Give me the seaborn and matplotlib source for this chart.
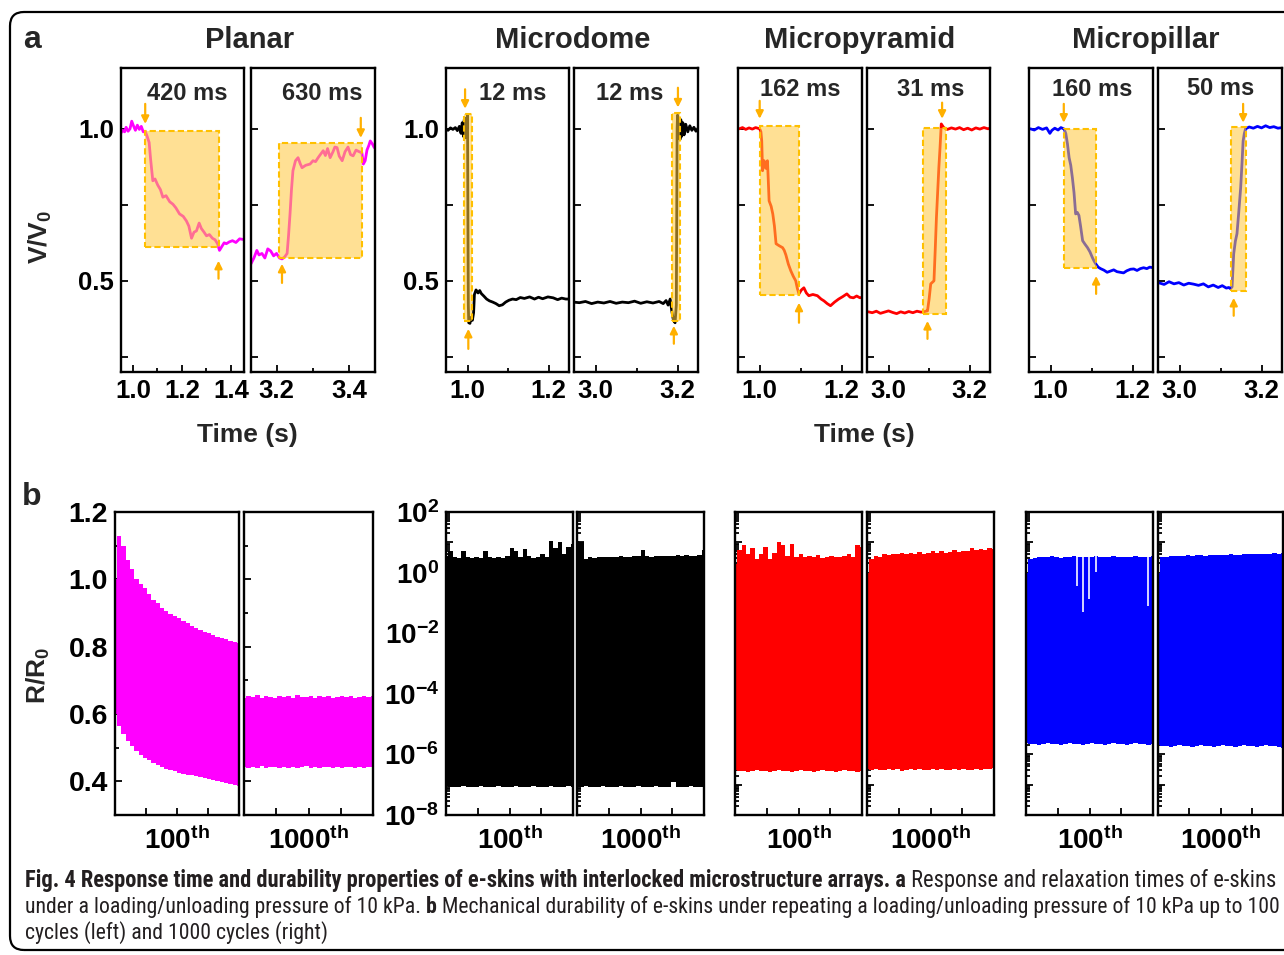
import numpy as np
import pandas as pd
import seaborn as sns
import matplotlib.pyplot as plt
from matplotlib.patches import FancyBboxPatch, Rectangle
from matplotlib.transforms import IdentityTransform
from matplotlib.ticker import FixedLocator, LogLocator, NullFormatter

W, H = 1284, 955

# ---------------- panel a: V/V0 vs time (s) ----------------
planar_load = [(0.950, 0.985), (0.958, 0.995), (0.966, 0.990), (0.972, 1.005), (0.980, 0.992),
               (0.988, 1.000), (0.995, 1.025), (1.002, 1.010), (1.010, 0.995), (1.018, 1.012),
               (1.026, 0.998), (1.034, 1.008), (1.042, 0.990), (1.050, 0.992), (1.058, 0.975),
               (1.066, 0.955), (1.072, 0.900), (1.081, 0.829), (1.090, 0.835), (1.101, 0.815),
               (1.112, 0.800), (1.122, 0.775), (1.135, 0.780), (1.150, 0.760), (1.163, 0.752),
               (1.175, 0.740), (1.190, 0.720), (1.205, 0.712), (1.218, 0.697), (1.228, 0.680),
               (1.239, 0.640), (1.249, 0.660), (1.259, 0.664), (1.270, 0.690), (1.279, 0.672),
               (1.290, 0.660), (1.300, 0.648), (1.312, 0.652), (1.324, 0.640), (1.335, 0.635),
               (1.345, 0.622), (1.353, 0.600), (1.362, 0.612), (1.372, 0.625), (1.381, 0.622),
               (1.393, 0.628), (1.406, 0.632), (1.420, 0.626), (1.435, 0.638), (1.450, 0.636)]
planar_unload = [(3.130, 0.556), (3.138, 0.575), (3.146, 0.600), (3.152, 0.585), (3.160, 0.590),
                 (3.168, 0.575), (3.176, 0.605), (3.184, 0.598), (3.192, 0.582), (3.200, 0.590),
                 (3.208, 0.575), (3.215, 0.572), (3.222, 0.578), (3.229, 0.590), (3.233, 0.650),
                 (3.237, 0.720), (3.241, 0.800), (3.245, 0.862), (3.252, 0.895), (3.259, 0.905),
                 (3.265, 0.885), (3.270, 0.872), (3.280, 0.880), (3.292, 0.884), (3.300, 0.895),
                 (3.307, 0.892), (3.314, 0.905), (3.320, 0.915), (3.328, 0.928), (3.334, 0.912),
                 (3.340, 0.935), (3.347, 0.905), (3.355, 0.925), (3.360, 0.940), (3.366, 0.938),
                 (3.372, 0.910), (3.380, 0.895), (3.388, 0.925), (3.396, 0.940), (3.403, 0.915),
                 (3.410, 0.911), (3.418, 0.930), (3.426, 0.925), (3.434, 0.921), (3.438, 0.884),
                 (3.443, 0.895), (3.448, 0.930), (3.453, 0.945), (3.457, 0.960), (3.463, 0.950),
                 (3.468, 0.938)]
dome_load = [(0.945, 1.000), (0.952, 0.995), (0.958, 1.003), (0.964, 0.998), (0.970, 1.004),
             (0.975, 0.994), (0.980, 1.008), (0.984, 0.985), (0.987, 1.020), (0.990, 0.975),
             (0.992, 1.030), (0.994, 0.970), (0.996, 1.035), (0.998, 1.000), (1.000, 1.045),
             (1.001, 0.700), (1.002, 0.420), (1.003, 0.362), (1.006, 0.360), (1.009, 0.380),
             (1.012, 0.370), (1.015, 0.395), (1.017, 0.455), (1.021, 0.470), (1.026, 0.460),
             (1.030, 0.468), (1.034, 0.458), (1.040, 0.450), (1.047, 0.440), (1.054, 0.434),
             (1.062, 0.430), (1.070, 0.425), (1.078, 0.418), (1.086, 0.421), (1.094, 0.430),
             (1.102, 0.436), (1.111, 0.440), (1.120, 0.438), (1.130, 0.445), (1.140, 0.442),
             (1.153, 0.447), (1.165, 0.440), (1.175, 0.446), (1.185, 0.441), (1.198, 0.447),
             (1.211, 0.444), (1.222, 0.438), (1.232, 0.443), (1.242, 0.440), (1.250, 0.440)]
dome_unload = [(2.945, 0.430), (2.960, 0.428), (2.975, 0.432), (2.990, 0.425), (3.005, 0.430),
               (3.020, 0.427), (3.035, 0.432), (3.050, 0.426), (3.065, 0.430), (3.080, 0.428),
               (3.095, 0.433), (3.110, 0.426), (3.125, 0.431), (3.140, 0.427), (3.155, 0.432),
               (3.165, 0.425), (3.172, 0.435), (3.177, 0.420), (3.182, 0.440), (3.186, 0.400),
               (3.190, 0.370), (3.194, 0.362), (3.197, 0.420), (3.198, 0.700), (3.199, 1.000),
               (3.200, 1.045), (3.202, 0.990), (3.204, 1.035), (3.206, 0.965), (3.208, 1.030),
               (3.210, 0.975), (3.213, 1.020), (3.216, 0.980), (3.220, 1.015), (3.225, 0.990),
               (3.230, 1.010), (3.235, 0.995), (3.240, 1.005), (3.245, 0.992), (3.250, 1.002)]
pyramid_load = [(0.950, 1.000), (0.958, 1.004), (0.966, 0.998), (0.974, 1.003), (0.982, 0.999),
                (0.990, 1.004), (1.000, 1.000), (1.003, 0.990), (1.005, 0.960), (1.007, 0.862),
                (1.009, 0.880), (1.011, 0.895), (1.015, 0.870), (1.019, 0.895), (1.021, 0.830),
                (1.023, 0.763), (1.028, 0.745), (1.032, 0.720), (1.036, 0.680), (1.040, 0.622),
                (1.048, 0.615), (1.056, 0.609), (1.060, 0.600), (1.064, 0.585), (1.070, 0.555),
                (1.076, 0.533), (1.082, 0.515), (1.088, 0.500), (1.092, 0.475), (1.096, 0.457),
                (1.102, 0.470), (1.108, 0.477), (1.114, 0.460), (1.120, 0.451), (1.130, 0.455),
                (1.141, 0.451), (1.150, 0.440), (1.157, 0.434), (1.165, 0.425), (1.173, 0.418),
                (1.183, 0.430), (1.193, 0.440), (1.203, 0.448), (1.213, 0.457), (1.221, 0.446),
                (1.229, 0.444), (1.237, 0.450), (1.245, 0.444), (1.250, 0.446)]
pyramid_unload = [(2.950, 0.398), (2.960, 0.395), (2.970, 0.400), (2.980, 0.393), (2.990, 0.397),
                  (3.000, 0.401), (3.010, 0.396), (3.020, 0.392), (3.030, 0.398), (3.040, 0.394),
                  (3.050, 0.399), (3.060, 0.395), (3.070, 0.400), (3.080, 0.397), (3.087, 0.398),
                  (3.092, 0.400), (3.096, 0.401), (3.100, 0.440), (3.104, 0.490), (3.108, 0.495),
                  (3.112, 0.500), (3.115, 0.600), (3.118, 0.707), (3.121, 0.790), (3.124, 0.872),
                  (3.127, 0.940), (3.130, 1.016), (3.133, 1.010), (3.136, 1.004), (3.145, 0.998),
                  (3.155, 1.003), (3.165, 0.999), (3.175, 1.004), (3.185, 0.997), (3.195, 1.002),
                  (3.205, 0.996), (3.215, 1.003), (3.225, 0.999), (3.235, 1.004), (3.245, 1.000),
                  (3.250, 1.002)]
pillar_load = [(0.950, 1.000), (0.960, 0.996), (0.970, 1.004), (0.980, 0.998), (0.990, 1.003),
               (0.998, 0.985), (1.003, 0.995), (1.010, 1.002), (1.018, 0.996), (1.025, 1.004),
               (1.033, 0.999), (1.037, 0.984), (1.041, 0.950), (1.045, 0.905), (1.049, 0.880),
               (1.053, 0.839), (1.057, 0.790), (1.061, 0.720), (1.065, 0.725), (1.069, 0.715),
               (1.073, 0.680), (1.078, 0.632), (1.084, 0.620), (1.090, 0.609), (1.096, 0.595),
               (1.102, 0.576), (1.106, 0.565), (1.110, 0.556), (1.116, 0.545), (1.122, 0.540),
               (1.130, 0.535), (1.138, 0.528), (1.146, 0.532), (1.154, 0.536), (1.162, 0.530),
               (1.170, 0.528), (1.178, 0.526), (1.186, 0.533), (1.195, 0.538), (1.203, 0.539),
               (1.211, 0.534), (1.219, 0.540), (1.227, 0.543), (1.235, 0.540), (1.242, 0.545),
               (1.250, 0.543)]
pillar_unload = [(2.950, 0.493), (2.962, 0.488), (2.974, 0.497), (2.986, 0.490), (2.998, 0.494),
                 (3.010, 0.486), (3.022, 0.492), (3.034, 0.489), (3.046, 0.485), (3.058, 0.490),
                 (3.070, 0.480), (3.082, 0.486), (3.094, 0.478), (3.104, 0.484), (3.114, 0.476),
                 (3.120, 0.478), (3.124, 0.474), (3.128, 0.480), (3.132, 0.589), (3.136, 0.630),
                 (3.140, 0.655), (3.144, 0.720), (3.149, 0.806), (3.152, 0.880), (3.155, 0.960),
                 (3.158, 0.985), (3.161, 1.000), (3.170, 1.006), (3.180, 1.002), (3.190, 1.008),
                 (3.200, 1.003), (3.210, 1.010), (3.220, 1.004), (3.230, 1.007), (3.240, 1.002),
                 (3.250, 1.004)]

# response / relaxation windows (t_start, t_end, v_low, v_high)
planar_windows = [(1.049, 1.353, 0.612, 0.993), (3.207, 3.434, 0.576, 0.954)]
dome_windows = [(0.992, 1.010, 0.368, 1.049), (3.186, 3.206, 0.368, 1.053)]
pyramid_windows = [(1.000, 1.096, 0.454, 1.010), (3.086, 3.142, 0.391, 1.003)]
pillar_windows = [(1.033, 1.110, 0.543, 1.000), (3.126, 3.162, 0.467, 1.007)]

# arrow markers (t, v_tail, v_head)
planar_arrows = [[(1.050, 1.082, 1.016), (1.349, 0.507, 0.566)],
                 [(3.215, 0.493, 0.556), (3.431, 1.036, 0.970)]]
dome_arrows = [[(0.994, 1.130, 1.066), (1.002, 0.276, 0.342)],
               [(3.201, 1.135, 1.070), (3.191, 0.293, 0.352)]]
pyramid_arrows = [[(1.000, 1.092, 1.033), (1.096, 0.362, 0.428)],
                  [(3.132, 1.086, 1.033), (3.096, 0.309, 0.368)]]
pillar_arrows = [[(1.032, 1.082, 1.020), (1.111, 0.457, 0.516)],
                 [(3.155, 1.082, 1.020), (3.132, 0.385, 0.444)]]

# response time labels (text, t, v)
planar_times = [("420 ms", 1.221, 1.115), ("630 ms", 3.325, 1.115)]
dome_times = [("12 ms", 1.111, 1.115), ("12 ms", 3.083, 1.115)]
pyramid_times = [("162 ms", 1.100, 1.128), ("31 ms", 3.104, 1.128)]
pillar_times = [("160 ms", 1.102, 1.128), ("50 ms", 3.100, 1.134)]

structures = ["Planar", "Microdome", "Micropyramid", "Micropillar"]
colors = ["#FF00FF", "#000000", "#FF0000", "#0000FF"]

# ---------------- panel b: R/R0 over cycles ----------------
planar_100_hi = [1.00, 1.128, 1.10, 1.056, 1.03, 1.00, 0.985, 0.974, 0.955, 0.94,
                 0.93, 0.914, 0.905, 0.898, 0.89, 0.884, 0.876, 0.87, 0.862, 0.854,
                 0.85, 0.845, 0.84, 0.836, 0.83, 0.826, 0.822, 0.818, 0.815, 0.81]
planar_100_lo = [0.60, 0.565, 0.54, 0.52, 0.505, 0.49, 0.478, 0.468, 0.463, 0.455,
                 0.448, 0.443, 0.438, 0.433, 0.43, 0.426, 0.423, 0.42, 0.418, 0.415,
                 0.412, 0.41, 0.407, 0.405, 0.40, 0.398, 0.395, 0.392, 0.39, 0.385]
planar_1000_hi = [0.648, 0.652, 0.650, 0.655, 0.649, 0.653, 0.651, 0.648, 0.654, 0.650,
                  0.652, 0.649, 0.655, 0.651, 0.650, 0.653, 0.648, 0.652, 0.650, 0.654,
                  0.649, 0.651, 0.653, 0.650, 0.652, 0.648, 0.651, 0.654, 0.650, 0.652]
planar_1000_lo = [0.444, 0.440, 0.443, 0.441, 0.445, 0.440, 0.442, 0.444, 0.439, 0.443,
                  0.441, 0.444, 0.440, 0.442, 0.445, 0.441, 0.443, 0.440, 0.442, 0.444,
                  0.441, 0.443, 0.440, 0.444, 0.442, 0.441, 0.443, 0.440, 0.444, 0.442]

# log10(R/R0) envelopes
dome_100_hi = [0.55, 0.72, 0.50, 0.48, 0.70, 0.50, 0.47, 0.53, 0.49, 0.72,
               0.50, 0.48, 0.52, 0.47, 0.55, 0.80, 0.70, 0.52, 0.78, 0.55,
               0.49, 0.53, 0.60, 0.52, 1.05, 0.80, 1.00, 0.60, 0.85, 0.95]
dome_100_lo = [-7.05, -7.08, -7.06, -7.07, -7.05, -7.08, -7.06, -7.07, -7.05, -7.08,
               -7.06, -7.07, -7.05, -7.08, -7.06, -7.07, -7.05, -7.08, -7.06, -7.07,
               -7.05, -7.08, -7.06, -7.07, -7.05, -7.08, -7.06, -7.07, -7.05, -7.08]
dome_1000_hi = [1.05, 1.00, 0.45, 0.50, 0.48, 0.52, 0.50, 0.53, 0.51, 0.52,
                0.54, 0.51, 0.53, 0.55, 0.54, 0.75, 0.55, 0.53, 0.56, 0.54,
                0.55, 0.56, 0.54, 0.57, 0.55, 0.57, 0.56, 0.55, 0.57, 0.75]
dome_1000_lo = [-7.06, -7.08, -7.05, -7.07, -7.06, -7.08, -7.05, -7.07, -7.06, -7.08,
                -7.05, -7.07, -7.06, -7.08, -7.05, -7.07, -7.06, -7.08, -7.05, -7.07,
                -7.06, -7.08, -6.92, -7.07, -7.06, -7.08, -7.05, -7.07, -7.06, -7.08]
pyramid_100_hi = [0.30, 0.75, 0.90, 0.60, 0.80, 0.45, 0.60, 0.85, 0.45, 0.65,
                  1.00, 0.90, 0.55, 0.95, 0.50, 0.60, 0.52, 0.55, 0.50, 0.58,
                  0.47, 0.52, 0.55, 0.50, 0.53, 0.55, 0.60, 0.50, 0.90, 0.85]
pyramid_100_lo = [-6.53, -6.56, -6.54, -6.57, -6.55, -6.53, -6.56, -6.54, -6.57, -6.55,
                  -6.53, -6.56, -6.54, -6.57, -6.55, -6.53, -6.56, -6.54, -6.57, -6.55,
                  -6.53, -6.56, -6.54, -6.57, -6.55, -6.53, -6.56, -6.54, -6.57, -6.55]
pyramid_1000_hi = [0.00, 0.45, 0.55, 0.52, 0.60, 0.58, 0.62, 0.60, 0.65, 0.60,
                   0.66, 0.62, 0.68, 0.63, 0.65, 0.70, 0.64, 0.72, 0.66, 0.68,
                   0.75, 0.68, 0.72, 0.70, 0.80, 0.74, 0.78, 0.75, 0.80, 0.78]
pyramid_1000_lo = [-6.48, -6.51, -6.49, -6.52, -6.50, -6.48, -6.53, -6.49, -6.55, -6.50,
                   -6.48, -6.51, -6.49, -6.52, -6.50, -6.48, -6.51, -6.49, -6.52, -6.50,
                   -6.48, -6.51, -6.49, -6.52, -6.50, -6.48, -6.51, -6.49, -6.47, -6.46]
pillar_100_hi = [0.00, 0.45, 0.48, 0.50, 0.52, 0.50, 0.55, 0.52, 0.49, 0.53,
                 0.51, 0.54, 0.50, 0.53, 0.52, 0.50, 0.55, 0.51, 0.53, 0.50,
                 0.54, 0.52, 0.50, 0.53, 0.52, 0.55, 0.51, 0.53, 0.52, 0.54]
pillar_100_lo = [-5.64, -5.67, -5.65, -5.68, -5.66, -5.64, -5.67, -5.65, -5.68, -5.66,
                 -5.64, -5.67, -5.65, -5.68, -5.66, -5.64, -5.67, -5.65, -5.68, -5.66,
                 -5.64, -5.67, -5.65, -5.68, -5.66, -5.64, -5.67, -5.65, -5.68, -5.66]
pillar_1000_hi = [0.00, 0.50, 0.53, 0.55, 0.54, 0.56, 0.55, 0.57, 0.56, 0.58,
                  0.57, 0.56, 0.58, 0.57, 0.59, 0.58, 0.57, 0.60, 0.58, 0.59,
                  0.60, 0.61, 0.60, 0.62, 0.61, 0.63, 0.62, 0.64, 0.63, 0.66]
pillar_1000_lo = [-5.70, -5.73, -5.71, -5.74, -5.72, -5.70, -5.73, -5.71, -5.74, -5.72,
                  -5.70, -5.73, -5.71, -5.74, -5.72, -5.70, -5.73, -5.71, -5.74, -5.72,
                  -5.70, -5.73, -5.71, -5.74, -5.72, -5.70, -5.73, -5.71, -5.74, -5.78]
# drop-outs in the micropillar 100-cycle record (cycle position 0-4, log10 bottom)
pillar_gaps_x = [1.61, 1.80, 1.98, 2.20, 3.84]
pillar_gaps_lo = [-0.43, -1.31, -0.87, 0.01, -1.09]

# ---------------- style ----------------
sns.set_theme(style="ticks")
plt.rcParams["font.family"] = ["Liberation Sans", "DejaVu Sans"]
plt.rcParams["font.weight"] = "bold"
plt.rcParams["mathtext.fontset"] = "custom"
plt.rcParams["mathtext.rm"] = "Liberation Sans:bold"
plt.rcParams["mathtext.bf"] = "Liberation Sans:bold"
plt.rcParams["mathtext.it"] = "Liberation Sans:bold"
plt.rcParams["mathtext.default"] = "bf"

BOX_FILL = "#FFC83C"
BOX_EDGE = "#FFC000"
ARROW = "#FFB000"

fig = plt.figure(figsize=(W / 100, H / 100), dpi=100)


def px_axes(l, t, r, b):
    return fig.add_axes([l / W, 1 - b / H, (r - l) / W, (b - t) / H])


def frame(ax, size):
    for s in ax.spines.values():
        s.set_visible(True)
        s.set_color("black")
        s.set_linewidth(1.7)
    ax.tick_params(which="both", direction="in", top=False, right=False,
                   width=1.3, colors="black", labelsize=size, pad=5)
    ax.tick_params(which="major", length=5)
    ax.tick_params(which="minor", length=3)
    ax.set_xlabel("")
    ax.set_ylabel("")
    ax.set_facecolor("white")


def trace_panel(ax, trace, color, window, arrows, times, xlim, xmajor, xminor, ylabels):
    df = pd.DataFrame(trace, columns=["t", "v"])
    sns.lineplot(data=df, x="t", y="v", ax=ax, color=color, lw=2.0,
                 estimator=None, sort=False, zorder=2)
    t0, t1, v0, v1 = window
    ax.add_patch(Rectangle((t0, v0), t1 - t0, v1 - v0, facecolor=BOX_FILL,
                           alpha=0.55, edgecolor="none", zorder=3))
    ax.add_patch(Rectangle((t0, v0), t1 - t0, v1 - v0, fill=False,
                           edgecolor=BOX_EDGE, lw=1.5, ls=(0, (3, 1.5)), zorder=4))
    for t, va, vb in arrows:
        ax.annotate("", xy=(t, vb), xytext=(t, va), annotation_clip=False,
                    arrowprops=dict(arrowstyle="-|>", color=ARROW, lw=1.6,
                                    mutation_scale=11, shrinkA=0, shrinkB=0))
    label, tx, ty = times
    ax.text(tx, ty, label, ha="center", va="center", fontsize=17,
            fontweight="bold", clip_on=False)
    ax.set_xlim(*xlim)
    ax.set_ylim(0.2, 1.2)
    frame(ax, 18.5)
    ax.xaxis.set_major_locator(FixedLocator(xmajor))
    ax.xaxis.set_minor_locator(FixedLocator(xminor))
    ax.set_xticklabels([f"{x:.1f}" for x in xmajor])
    ax.set_yticks([0.25, 0.5, 0.75, 1.0])
    if ylabels:
        ax.set_yticklabels(["", "0.5", "", "1.0"])
    else:
        ax.set_yticklabels([])


# ---------------- panel a ----------------
a_boxes = [[(120.7, 68, 244, 372), (251, 68, 375, 372)],
           [(446, 68, 569, 372), (574, 68, 698, 372)],
           [(738, 68, 862, 372), (867, 68, 990, 372)],
           [(1029, 68, 1153, 372), (1158, 68, 1282, 372)]]
traces = [(planar_load, planar_unload), (dome_load, dome_unload),
          (pyramid_load, pyramid_unload), (pillar_load, pillar_unload)]
windows = [planar_windows, dome_windows, pyramid_windows, pillar_windows]
arrows = [planar_arrows, dome_arrows, pyramid_arrows, pillar_arrows]
times = [planar_times, dome_times, pyramid_times, pillar_times]
xlims = [[(0.95, 1.453), (3.13, 3.47)]] + [[(0.947, 1.25), (2.947, 3.25)]] * 3
xmaj = [[[1.0, 1.2, 1.4], [3.2, 3.4]]] + [[[1.0, 1.2], [3.0, 3.2]]] * 3
xmin = [[[1.1, 1.3], [3.3]]] + [[[1.1], [3.1]]] * 3

for i in range(4):
    for j in range(2):
        ax = px_axes(*a_boxes[i][j])
        trace_panel(ax, traces[i][j], colors[i], windows[i][j], arrows[i][j],
                    times[i][j], xlims[i][j], xmaj[i][j], xmin[i][j],
                    ylabels=(j == 0 and i < 2))

title_x = [250, 573, 860, 1146]
for name, x in zip(structures, title_x):
    fig.text(x / W, 1 - 40 / H, name, ha="center", va="center",
             fontsize=21, fontweight="bold")
for x in [247, 864]:
    fig.text(x / W, 1 - 435 / H, "Time (s)", ha="center", va="center",
             fontsize=19, fontweight="bold")
fig.text(40 / W, 1 - 237 / H, r"$V/V_0$", ha="center", va="center",
         rotation=90, fontsize=19)
fig.text(32 / W, 1 - 40 / H, "a", ha="center", va="center", fontsize=23,
         fontweight="bold")
fig.text(32 / W, 1 - 497 / H, "b", ha="center", va="center", fontsize=23,
         fontweight="bold")

# ---------------- panel b ----------------
b_boxes = [[(115, 512, 239, 815), (244, 512, 373, 815)],
           [(446, 512, 573, 815), (577, 512, 704, 815)],
           [(735, 512, 862, 815), (867, 512, 994, 815)],
           [(1026, 512, 1153, 815), (1158, 512, 1283, 815)]]
bands = [[(planar_100_lo, planar_100_hi), (planar_1000_lo, planar_1000_hi)],
         [(dome_100_lo, dome_100_hi), (dome_1000_lo, dome_1000_hi)],
         [(pyramid_100_lo, pyramid_100_hi), (pyramid_1000_lo, pyramid_1000_hi)],
         [(pillar_100_lo, pillar_100_hi), (pillar_1000_lo, pillar_1000_hi)]]
cycle_labels = [r"$100^{th}$", r"$1000^{th}$"]

for i in range(4):
    for j in range(2):
        ax = px_axes(*b_boxes[i][j])
        lo, hi = bands[i][j]
        x = np.linspace(0, 4, len(hi))
        if i == 0:
            ax.fill_between(x, lo, hi, step="mid", color=colors[i], lw=0)
            ax.set_ylim(0.3, 1.2)
            frame(ax, 20.5)
            ax.yaxis.set_major_locator(FixedLocator([0.4, 0.6, 0.8, 1.0, 1.2]))
            ax.yaxis.set_minor_locator(FixedLocator([0.5, 0.7, 0.9, 1.1]))
            if j == 0:
                ax.set_yticklabels(["0.4", "0.6", "0.8", "1.0", "1.2"])
            else:
                ax.set_yticklabels([])
        else:
            ax.fill_between(x, 10.0 ** np.array(lo), 10.0 ** np.array(hi),
                            step="mid", color=colors[i], lw=0)
            ax.set_yscale("log")
            ax.set_ylim(1e-8, 1e2)
            frame(ax, 20)
            decades = list(range(-8, 3))
            ax.yaxis.set_major_locator(FixedLocator([10.0 ** k for k in decades]))
            ax.yaxis.set_minor_locator(LogLocator(base=10, subs=np.arange(2, 10), numticks=100))
            ax.yaxis.set_minor_formatter(NullFormatter())
            if i == 1 and j == 0:
                ax.set_yticklabels([rf"$10^{{{k}}}$" if k % 2 == 0 else "" for k in decades])
            else:
                ax.set_yticklabels([])
            if i == 3 and j == 0:
                ax.vlines(pillar_gaps_x, 10.0 ** np.array(pillar_gaps_lo), 10 ** 0.6,
                          color="white", lw=1.3, alpha=0.9)
        ax.set_axisbelow(True)
        ax.set_xlim(0, 4)
        ax.set_xticks([1, 2, 3])
        ax.set_xticklabels(["", cycle_labels[j], ""])
        ax.tick_params(axis="x", labelsize=20, pad=8)

fig.text(38 / W, 1 - 675 / H, r"$R/R_0$", ha="center", va="center",
         rotation=90, fontsize=19)

# ---------------- outer frame and caption ----------------
fig.patches.append(FancyBboxPatch((10, 5), 1300, 938,
                                  boxstyle="round,pad=0,rounding_size=14",
                                  transform=IdentityTransform(), fill=False,
                                  edgecolor="black", lw=1.6))

cap = fig.add_axes([0, 0, 1, 1])
cap.axis("off")
cap_font = ["Roboto Condensed", "Liberation Sans Narrow", "Liberation Sans"]
cap_size = 13
CAP_LEFT, CAP_RIGHT = 25, 1274


def caption_line(y_px, parts):
    items = []
    prev = None
    for txt, weight in parts:
        if prev is None:
            prev = cap.text(CAP_LEFT / W, 1 - y_px / H, txt, transform=fig.transFigure,
                            va="baseline", ha="left", fontsize=cap_size,
                            family=cap_font, fontweight=weight, color="#231F20")
        else:
            prev = cap.annotate(txt, xy=(1, 0), xycoords=prev, va="bottom",
                                ha="left", fontsize=cap_size, family=cap_font,
                                fontweight=weight, color="#231F20")
        items.append(prev)
    return items


line1 = caption_line(887, [("Fig. 4 Response time and durability properties of e-skins with "
                            "interlocked microstructure arrays. a", "bold"),
                           (" Response and relaxation times of e-skins", "normal")])
line2 = caption_line(913, [("under a loading/unloading pressure of 10 kPa. ", "normal"),
                           ("b", "bold"),
                           (" Mechanical durability of e-skins under repeating a "
                            "loading/unloading pressure of 10 kPa up to 100", "normal")])
line3 = caption_line(939, [("cycles (left) and 1000 cycles (right)", "normal")])

# justify the two full caption lines to the reference width
fig.canvas.draw()
renderer = fig.canvas.get_renderer()
sizes = []
for items in (line1, line2):
    x0 = items[0].get_window_extent(renderer).x0
    x1 = items[-1].get_window_extent(renderer).x1
    sizes.append(cap_size * (CAP_RIGHT - CAP_LEFT) / (x1 - x0))
for items, size in zip((line1, line2, line3), (sizes[0], sizes[1], sizes[1])):
    for t in items:
        t.set_fontsize(size)

fig.savefig("out.png", dpi=100, facecolor="white")
